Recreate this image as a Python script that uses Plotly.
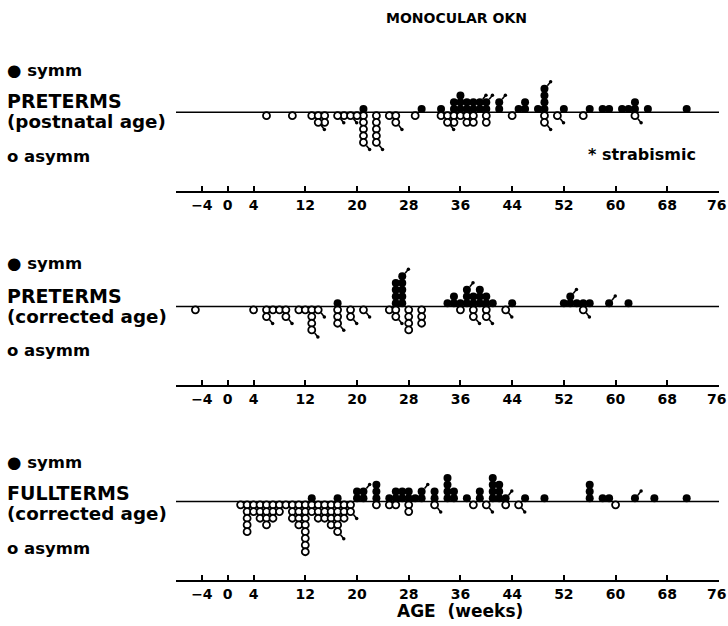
import plotly.graph_objects as go

W, H = 728, 626

# ---------------- data (age in weeks; repeated values = stacked subjects) -------------
ticks = [-4, 0, 4, 12, 20, 28, 36, 44, 52, 60, 68, 76]
tick_text = ["\u22124", "0", "4", "12", "20", "28", "36", "44", "52", "60", "68", "76"]

# Panel 1: PRETERMS (postnatal age)
p1_symm = [21, 30, 33, 35, 35, 36, 36, 36, 37, 37, 38, 38, 39, 40, 42, 45, 46, 46, 48,
           49, 49, 49, 52, 56, 58, 59, 61, 62, 63, 63, 65, 71]
p1_symm_strab = [39, 40, 42, 49]
p1_asym = [6, 10, 13, 14, 15, 15, 18, 21, 21, 21, 21, 23, 23, 23, 23, 25, 26, 29, 33, 34,
           35, 35, 36, 37, 37, 38, 38, 40, 40, 44, 49, 55]
p1_asym_strab = [14, 17, 19, 20, 21, 23, 26, 34, 49, 51, 63]

# Panel 2: PRETERMS (corrected age)
p2_symm = [17, 26, 26, 26, 26, 27, 27, 27, 27, 34, 35, 35, 36, 37, 37, 38, 38, 39, 39, 39,
           40, 40, 41, 44, 52, 53, 54, 55, 56, 62]
p2_symm_strab = [27, 37, 53, 59]
p2_asym = [-5, 4, 6, 7, 8, 9, 11, 12, 13, 13, 13, 17, 17, 19, 25, 26, 28, 28, 28, 28,
           30, 30, 30, 36, 38, 40]
p2_asym_strab = [6, 9, 13, 14, 17, 19, 21, 26, 38, 40, 43, 55]

# Panel 3: FULLTERMS (corrected age)
p3_symm = [13, 17, 20, 20, 21, 23, 23, 23, 25, 26, 26, 27, 27, 28, 28, 29, 30, 32, 32,
           34, 34, 34, 34, 35, 35, 37, 39, 39, 41, 41, 41, 41, 42, 42, 42, 46, 49,
           56, 56, 56, 58, 59, 66, 71]
p3_symm_strab = [21, 30, 43, 63]
p3_asym = [2, 3, 3, 3, 3, 3, 4, 4, 5, 5, 5, 6, 6, 6, 6, 7, 7, 7, 8, 8, 9, 10, 10, 10,
           11, 11, 11, 11, 12, 12, 12, 12, 12, 12, 12, 12, 13, 13, 14, 14, 14, 15, 15, 15,
           16, 16, 16, 16, 17, 17, 17, 17, 18, 18, 18, 19, 23, 25, 26, 28, 28, 38, 43, 60]
p3_asym_strab = [17, 19, 32, 40, 45]

panels = [
    dict(symm=p1_symm, symm_s=p1_symm_strab, asym=p1_asym, asym_s=p1_asym_strab,
         base=112.3, axis=191, top=40,
         labels=[("\u25CF symm", 71), ("PRETERMS", 101), ("(postnatal age)", 121), ("o asymm", 156)]),
    dict(symm=p2_symm, symm_s=p2_symm_strab, asym=p2_asym, asym_s=p2_asym_strab,
         base=306.5, axis=385, top=232,
         labels=[("\u25CF symm", 264), ("PRETERMS", 296), ("(corrected age)", 316), ("o asymm", 350)]),
    dict(symm=p3_symm, symm_s=p3_symm_strab, asym=p3_asym, asym_s=p3_asym_strab,
         base=501.5, axis=580, top=425,
         labels=[("\u25CF symm", 462), ("FULLTERMS", 493), ("(corrected age)", 513), ("o asymm", 548)]),
]

ROW = 6.7          # pixel height of one stacked dot
X0, X1 = -8, 76
PX0, PX1 = 176, 719

def stack(normal, strab, sign):
    cnt = {}
    xs, ys, sx, sy = [], [], [], []
    for a in normal:
        k = cnt.get(a, 0); cnt[a] = k + 1
        xs.append(a); ys.append(sign * (k + 0.5))
    for a in strab:
        k = cnt.get(a, 0); cnt[a] = k + 1
        xs.append(a); ys.append(sign * (k + 0.5))
        sx.append(a); sy.append(sign * (k + 0.5))
    return xs, ys, sx, sy

fig = go.Figure()
font = "DejaVu Sans"
ann = []
shapes = []
tfont = dict(family=font, size=14, color="black", weight="bold")
for i, p in enumerate(panels):
    n = i + 1
    xa = "x" if n == 1 else f"x{n}"
    ya = "y" if n == 1 else f"y{n}"
    xs, ys, sxs, sys_ = stack(p["symm"], p["symm_s"], 1)
    xa_, ya_, axs, ays = stack(p["asym"], p["asym_s"], -1)
    # strabismic tails
    tx, ty = [], []
    for x, y in zip(sxs, sys_):
        tx += [x + 0.45, x + 0.95, None]; ty += [y + 0.45, y + 1.05, None]
    for x, y in zip(axs, ays):
        tx += [x + 0.45, x + 0.95, None]; ty += [y - 0.45, y - 1.05, None]
    ex = [v for v in tx[1::3]]; ey = [v for v in ty[1::3]]
    fig.add_trace(go.Scatter(x=tx, y=ty, mode="lines", line=dict(color="black", width=1.6),
                             xaxis=xa, yaxis=ya, hoverinfo="skip", showlegend=False))
    fig.add_trace(go.Scatter(x=ex, y=ey, mode="markers", marker=dict(color="black", size=3.5),
                             xaxis=xa, yaxis=ya, hoverinfo="skip", showlegend=False))
    fig.add_trace(go.Scatter(x=xa_, y=ya_, mode="markers",
                             marker=dict(symbol="circle", size=7, color="white",
                                         line=dict(color="black", width=1.8)),
                             xaxis=xa, yaxis=ya, showlegend=False))
    fig.add_trace(go.Scatter(x=xs, y=ys, mode="markers",
                             marker=dict(symbol="circle", size=8, color="black",
                                         line=dict(color="black", width=0)),
                             xaxis=xa, yaxis=ya, showlegend=False))
    ybot = -(p["axis"] - p["base"]) / ROW
    ytop = (p["base"] - p["top"]) / ROW
    fig.update_layout(**{
        ("xaxis" if n == 1 else f"xaxis{n}"): dict(
            domain=[PX0 / W, PX1 / W], range=[X0, X1], anchor=ya, automargin=False,
            tickvals=ticks, ticktext=[t if t != "76" else "" for t in tick_text],
            ticks="inside", ticklen=5, tickwidth=1.5,
            tickcolor="black", showline=True, linecolor="black", linewidth=1.5,
            showgrid=False, zeroline=False, tickfont=tfont),
        ("yaxis" if n == 1 else f"yaxis{n}"): dict(
            domain=[1 - p["axis"] / H, 1 - p["top"] / H], range=[ybot, ytop],
            anchor=xa, visible=False, showgrid=False, zeroline=False),
    })
    shapes.append(dict(type="line", xref=xa, yref=ya, x0=X0, x1=X1, y0=0, y1=0,
                       line=dict(color="black", width=1.5), layer="below"))
    # last tick label, kept inside the page edge as in the original
    ann.append(dict(text=tick_text[-1], x=1.0, y=1 - (p["axis"] + 13.5) / H,
                    xref="paper", yref="paper", xanchor="right", yanchor="middle",
                    showarrow=False, font=tfont))
    for txt, ypx in p["labels"]:
        big = txt.isupper()
        paren = txt.startswith("(")
        ann.append(dict(text=txt, x=5 / W, y=1 - ypx / H, xref="paper", yref="paper",
                        xanchor="left", yanchor="middle", showarrow=False,
                        font=dict(family=font, size=19 if big else (18.3 if paren else 16.5),
                                  color="black", weight="bold")))

ann.append(dict(text="MONOCULAR OKN", x=456 / W, y=1 - 18 / H, xref="paper", yref="paper",
                xanchor="center", yanchor="middle", showarrow=False,
                font=dict(family=font, size=14, color="black", weight="bold")))
ann.append(dict(text="* strabismic", x=586 / W, y=1 - 155 / H, xref="paper", yref="paper",
                xanchor="left", yanchor="middle", showarrow=False,
                font=dict(family=font, size=16, color="black", weight="bold")))
ann.append(dict(text="AGE  (weeks)", x=460 / W, y=1 - 611 / H, xref="paper", yref="paper",
                xanchor="center", yanchor="middle", showarrow=False,
                font=dict(family=font, size=17, color="black", weight="bold")))

fig.update_layout(width=W, height=H, margin=dict(l=0, r=0, t=0, b=0, autoexpand=False),
                  paper_bgcolor="white", plot_bgcolor="white",
                  annotations=ann, shapes=shapes, showlegend=False)
fig.write_html("out.html")
